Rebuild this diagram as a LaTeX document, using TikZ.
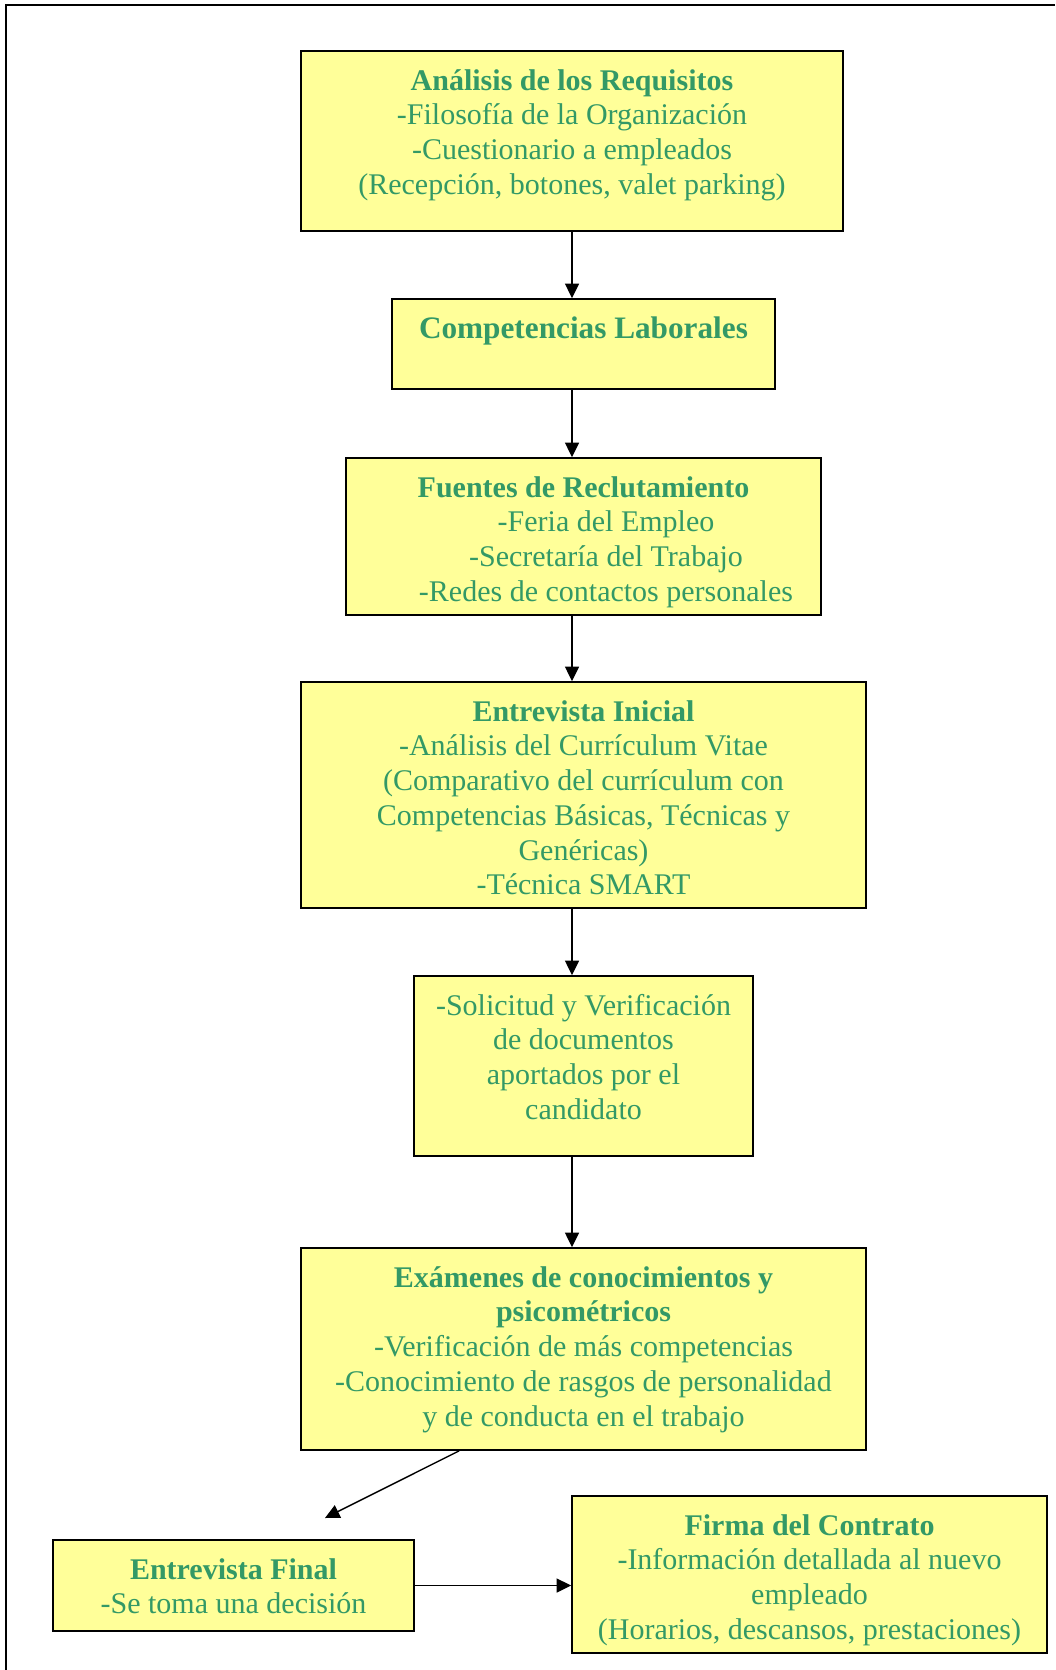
\documentclass[tikz,border=0pt]{standalone}
\usepackage{fontspec}
\setmainfont{Liberation Serif}
\usetikzlibrary{arrows.meta}
\definecolor{verde}{RGB}{51,153,102}
\definecolor{amarillo}{RGB}{255,255,153}
\newdimen\unidad \unidad=0.4pt
\newcommand{\caja}[3]{\parbox[c][#2\unidad][t]{#1\unidad}{\centering\vspace*{5.9pt}\strut #3}}

\begin{document}
\begin{tikzpicture}[x=0.4pt,y=-0.4pt, every node/.style={font=\fontsize{12}{13.9}\selectfont},
  paso/.style={draw, line width=0.7pt, fill=amarillo, text=verde, inner sep=0pt},
  flecha/.style={-{Triangle[length=5.8pt,width=5.6pt]}, line width=0.55pt}]
  \useasboundingbox (0,0) rectangle (1055,1670);
  \draw[line width=0.8pt] (6,1670) -- (6,5) -- (1055,5);
  \node[paso] (analisis) at (572,141) {\caja{542}{180}{\textbf{Análisis de los Requisitos}\\-Filosofía de la Organización\\-Cuestionario a empleados\\(Recepción, botones, valet parking)}};
  \node[paso] (competencias) at (583.5,344) {\caja{383}{90}{\textbf{\fontsize{12.5}{13.9}\selectfont Competencias Laborales}}};
  \node[paso] (fuentes) at (583.5,536.5) {\caja{475}{157}{\textbf{Fuentes de Reclutamiento}\\\hspace*{18pt}-Feria del Empleo\\\hspace*{18pt}-Secretaría del Trabajo\\\hspace*{18pt}-Redes de contactos personales}};
  \node[paso] (inicial) at (583.5,795) {\caja{565}{226}{\textbf{Entrevista Inicial}\\-Análisis del Currículum Vitae\\(Comparativo del currículum con\\Competencias Básicas, Técnicas y\\Genéricas)\\-Técnica SMART}};
  \node[paso] (solicitud) at (583.5,1066) {\caja{339}{180}{-Solicitud y Verificación\\de documentos\\aportados por el\\candidato}};
  \node[paso] (examenes) at (583.5,1349) {\caja{565}{202}{\textbf{Exámenes de conocimientos y}\\\textbf{psicométricos}\\-Verificación de más competencias\\-Conocimiento de rasgos de personalidad\\y de conducta en el trabajo}};
  \node[paso] (final) at (233.5,1585.5) {\caja{361}{91}{\textbf{Entrevista Final}\\-Se toma una decisión}};
  \node[paso] (firma) at (809.5,1574.5) {\caja{475}{157}{\textbf{Firma del Contrato}\\-Información detallada al nuevo\\empleado\\(Horarios, descansos, prestaciones)}};
  \coordinate (punta) at (325,1518);
  \draw[flecha] (analisis.south) -- (competencias.north -| analisis);
  \draw[flecha] (competencias.south -| analisis) -- (fuentes.north -| analisis);
  \draw[flecha] (fuentes.south -| analisis) -- (inicial.north -| analisis);
  \draw[flecha] (inicial.south -| analisis) -- (solicitud.north -| analisis);
  \draw[flecha] (solicitud.south -| analisis) -- (examenes.north -| analisis);
  \draw[flecha] ([xshift=63.6pt]examenes.south west) -- (punta);
  \draw[flecha] (final.east) -- (final.east -| firma.west);
\end{tikzpicture}
\end{document}
